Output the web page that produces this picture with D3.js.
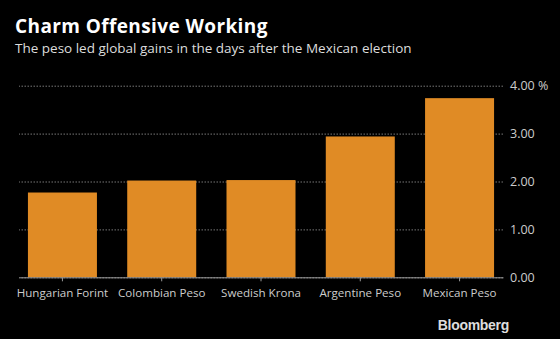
<!DOCTYPE html>
<html lang="en">
<head>
<meta charset="UTF-8">
<title>Charm Offensive Working</title>
<script src="https://d3js.org/d3.v7.min.js"></script>
<style>
    body { margin: 0; background: #000; }
    svg { display: block; background: #000; font-family: 'Open Sans', sans-serif; }
    .title { fill: #fff; font-size: 19px; font-weight: bold; letter-spacing: 0.4px; }
    .subtitle { fill: #ddd; font-size: 13.5px; }
    .axis text { fill: #ccc; font-size: 12.5px; font-family: 'Open Sans', sans-serif; }
    .xaxis text { font-size: 11.6px; }
    .brand { fill: #ddd; font-size: 14px; font-weight: bold; font-family: 'Liberation Sans', sans-serif; letter-spacing: -0.3px; }
</style>
</head>
<body>
<svg width="560" height="339"></svg>
<script>
    const currencies = ["Hungarian Forint", "Colombian Peso", "Swedish Krona", "Argentine Peso", "Mexican Peso"];
    const gains = [1.77, 2.02, 2.03, 2.94, 3.74];
    const yTicks = [0, 1, 2, 3, 4];

    const svg = d3.select("svg");
    const plot = {left: 19, right: 503, top: 85.7, bottom: 277.3};

    svg.append("text").attr("class", "title").attr("x", 15).attr("y", 33)
        .text("Charm Offensive Working");
    svg.append("text").attr("class", "subtitle").attr("x", 15).attr("y", 53)
        .text("The peso led global gains in the days after the Mexican election");

    const x = d3.scaleBand()
        .domain(currencies)
        .range([plot.left, plot.right])
        .paddingInner(0.305)
        .paddingOuter(0.09);

    const y = d3.scaleLinear()
        .domain([0, 4])
        .range([plot.bottom, plot.top]);

    // gridlines (dotted) and right-hand labels
    const yAxis = svg.append("g")
        .attr("class", "axis")
        .attr("transform", `translate(${plot.right},0)`)
        .call(d3.axisRight(y)
            .tickValues(yTicks)
            .tickSize(-(plot.right - plot.left))
            .tickPadding(7)
            .tickFormat((d, i) => d3.format(".2f")(d) + (i === yTicks.length - 1 ? " %" : "")));
    yAxis.select(".domain").remove();
    yAxis.selectAll("line")
        .attr("stroke", "#777")
        .attr("stroke-dasharray", "1.5,1.5")
        .attr("stroke-width", 1);
    yAxis.selectAll("text").attr("x", 7).attr("text-anchor", "start");

    // bars
    svg.selectAll(".bar")
        .data(currencies)
        .enter().append("rect")
        .attr("class", "bar")
        .attr("x", d => x(d))
        .attr("width", x.bandwidth())
        .attr("y", (d, i) => y(gains[i]))
        .attr("height", (d, i) => y(0) - y(gains[i]))
        .attr("fill", "#e08b25");

    // x axis
    const xAxis = svg.append("g")
        .attr("class", "axis xaxis")
        .attr("transform", `translate(0,${plot.bottom})`)
        .call(d3.axisBottom(x).tickSize(4).tickSizeOuter(0).tickPadding(7));
    xAxis.select(".domain").attr("stroke", "#999");
    xAxis.selectAll("line").attr("stroke", "#999");

    svg.append("text").attr("class", "brand")
        .attr("x", 509).attr("y", 330).attr("text-anchor", "end")
        .text("Bloomberg");
</script>
</body>
</html>
